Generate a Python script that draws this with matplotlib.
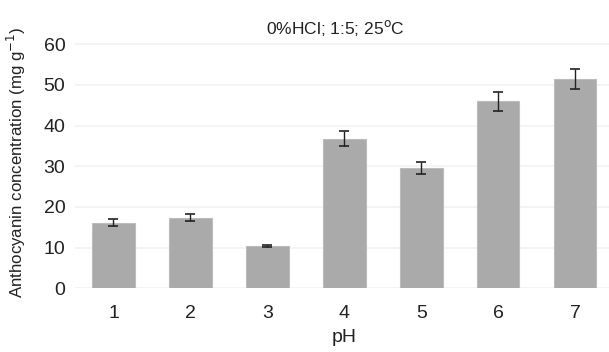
import matplotlib.pyplot as plt
import numpy as np

### データ
ph = [1, 2, 3, 4, 5, 6, 7]
conc = [16.1, 17.4, 10.5, 36.8, 29.6, 46.0, 51.5]
err = [0.85, 0.85, 0.25, 1.9, 1.45, 2.35, 2.45]
yticks = [0, 10, 20, 30, 40, 50, 60]

plt.rcParams['font.family'] = ['Liberation Sans Narrow', 'Liberation Sans', 'DejaVu Sans']

W, H = 609, 352
fig = plt.figure(figsize=(W / 100, H / 100), dpi=100)
### 軸の位置 (ピクセルから換算)
ax = fig.add_axes([75 / W, (H - 288.3) / H, (613.5 - 75) / W, 62 * 4.067 / H])

ax.bar(ph, conc, width=0.555, color='#aaaaaa', edgecolor='#bcbcbc', linewidth=0.8, zorder=2)
ax.errorbar(ph, conc, yerr=err, fmt='none', ecolor='#222222', elinewidth=1.0,
            capsize=3.5, capthick=1.2, zorder=3)

ax.set_xlim(0.5, 7.5)
ax.set_ylim(0, 62)
ax.set_xticks(ph)
ax.set_yticks(yticks)
ax.yaxis.grid(True, color='#f2f2f2', linewidth=1.2, zorder=0)
ax.set_axisbelow(True)
for s in ax.spines.values():
    s.set_visible(False)
ax.tick_params(axis='both', length=0, labelsize=14, colors='#222222')
ax.tick_params(axis='x', pad=12)
ax.tick_params(axis='y', pad=7)

ax.set_xlabel('pH', fontsize=14, color='#222222', labelpad=5)
ax.set_ylabel('Anthocyanin concentration (mg g$^{-1}$)', fontsize=12.2, color='#222222', labelpad=11)

fig.text(335 / W, 1 - 28 / H, '0%HCl; 1:5; 25$^{\\rm o}$C', ha='center', va='center',
         fontsize=12.5, color='#222222')

plt.savefig('out.png', dpi=100)
